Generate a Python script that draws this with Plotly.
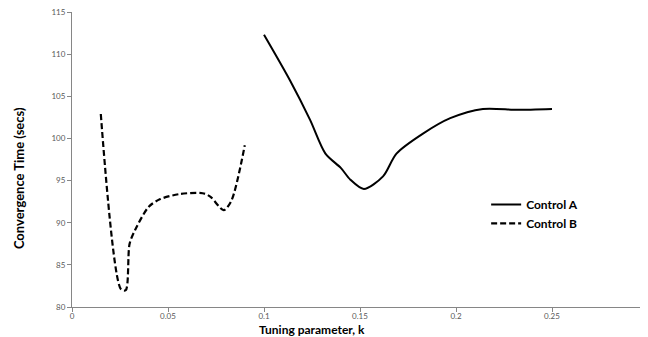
import plotly.graph_objects as go

# Control A (solid)
a_k = [0.100, 0.1135, 0.124, 0.132, 0.140, 0.145, 0.152, 0.162, 0.169, 0.183, 0.197, 0.214, 0.232, 0.250]
a_t = [112.3, 106.9, 102.2, 98.2, 96.5, 95.1, 94.0, 95.5, 98.2, 100.6, 102.4, 103.5, 103.4, 103.5]

# Control B (dashed)
b_k = [0.015, 0.0255, 0.028, 0.030, 0.033, 0.040, 0.046, 0.056, 0.068, 0.072, 0.079, 0.083, 0.090]
b_t = [102.9, 82.1, 82.0, 87.5, 89.2, 91.9, 92.8, 93.4, 93.5, 93.1, 91.5, 92.6, 99.2]

x_ticks = [0, 0.05, 0.1, 0.15, 0.2, 0.25, 0.3]
x_tick_labels = ["0", "0.05", "0.1", "0.15", "0.2", "0.25", "0.3"]
y_ticks = [80, 85, 90, 95, 100, 105, 110, 115]

fig = go.Figure()
fig.add_trace(go.Scatter(x=a_k, y=a_t, mode="lines", name="Control A",
                         line=dict(color="black", width=2, shape="spline", smoothing=0.8)))
fig.add_trace(go.Scatter(x=b_k, y=b_t, mode="lines", name="Control B",
                         line=dict(color="black", width=2.2, dash="6px,3px", shape="spline", smoothing=0.8)))

axis_font = dict(family="Lato, Open Sans, sans-serif", size=8, color="#595959")
# the page body adds an 8px offset, so the figure is 8px smaller than the window
fig.update_layout(
    width=640, height=329,
    margin=dict(l=64, r=0, t=4, b=30, autoexpand=False),
    plot_bgcolor="white", paper_bgcolor="white",
    showlegend=True,
    legend=dict(x=0.719, y=0.397, xanchor="left", yanchor="top",
                font=dict(family="Lato, Open Sans, sans-serif", size=12, color="black", weight="bold"),
                itemwidth=30, tracegroupgap=0, bgcolor="rgba(0,0,0,0)"),
    xaxis=dict(range=[0, 0.3], tickvals=x_ticks, ticktext=x_tick_labels,
               showgrid=False, zeroline=False, showline=True, linecolor="#868686", linewidth=1,
               ticks="outside", ticklen=4, tickcolor="#868686", tickfont=axis_font,
               ticklabeloverflow="allow", ticklabelstandoff=-3, automargin=False),
    yaxis=dict(range=[80, 115], tickvals=y_ticks,
               showgrid=False, zeroline=False, showline=True, linecolor="#868686", linewidth=1,
               ticks="outside", ticklen=4, tickcolor="#868686", tickfont=axis_font,
               ticklabeloverflow="allow", automargin=False),
    annotations=[
        dict(text="Tuning parameter, k", xref="paper", yref="paper", x=0.4167, y=-0.0746,
             xanchor="center", yanchor="middle", showarrow=False,
             font=dict(family="Lato, Open Sans, sans-serif", size=12, color="black", weight="bold")),
        dict(text="Convergence Time (secs)", xref="paper", yref="paper", x=-0.092, y=0.437,
             xanchor="center", yanchor="middle", textangle=-90, showarrow=False,
             font=dict(family="Lato, Open Sans, sans-serif", size=13, color="black", weight="bold")),
    ],
)

fig.write_html("out.html")
